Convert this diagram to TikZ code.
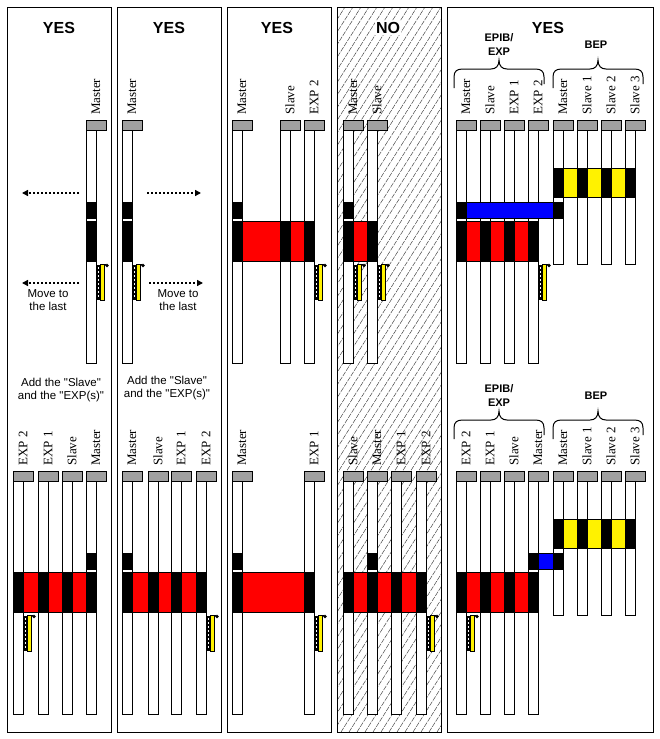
\documentclass[tikz,border=0pt]{standalone}
\usepackage{fontspec}
\setmainfont{Liberation Serif}
\newfontfamily\sansf{Liberation Sans}
\usetikzlibrary{arrows.meta}
\definecolor{capgray}{RGB}{160,160,160}
\definecolor{hatchc}{RGB}{60,60,60}
\tikzset{
  panelsty/.style={draw=black,line width=1pt},
  barsty/.style={draw=black,fill=white,line width=1pt},
  capsty/.style={draw=black,fill=capgray,line width=1pt},
  blksty/.style={draw=black,fill=black,line width=1pt},
  bandsty/.style={draw=black,line width=1pt},
  lblsty/.style={rotate=90,anchor=west,inner sep=0pt,font=\fontsize{13}{15}\selectfont},
  titlesty/.style={inner sep=0pt,font=\sansf\bfseries\fontsize{16}{18}\selectfont},
  notesty/.style={inner sep=0pt,align=center,font=\sansf\fontsize{11.5}{13}\selectfont},
  grpsty/.style={inner sep=0pt,align=center,font=\sansf\bfseries\fontsize{11}{14}\selectfont},
  bracesty/.style={draw=black,line width=1pt},
  hatchsty/.style={draw=hatchc,line width=0.45pt,dash pattern=on 5pt off 1.2pt},
  movearrow/.style={line width=1.4pt,dash pattern=on 2pt off 2pt,-{Triangle[length=6pt,width=6pt]}}
}
\newcommand\Module[4]{% x, dy, label, bar bottom
  \draw[barsty] (#1,130+#2) rectangle (#1+10,#4+#2);
  \draw[capsty] (#1,120+#2) rectangle (#1+20,130+#2);
  \node[lblsty] (m-#1-#2) at (#1+10,115+#2) {#3};}
\newcommand\Blk[3]{\draw[blksty] (#1,#2) rectangle (#1+10,#3);}
\newcommand\Band[5]{\draw[bandsty,fill=#5] (#1,#3) rectangle (#2,#4);}
\newcommand\Term[2]{%
  \fill[black] (#1+10.5,265+#2) rectangle (#1+14,300+#2);
  \foreach \k in {0,...,7}{\fill[white] (#1+11.6,267+#2+4*\k) rectangle (#1+13,268.8+#2+4*\k);}
  \draw[fill=yellow,draw=black,line width=1pt] (#1+14,264+#2) rectangle (#1+18,300+#2);
  \draw[black,line width=1pt] (#1+18,264+#2) -- (#1+20,264+#2);
  \fill[black] (#1+21,265.5+#2) circle (1.8);}
\newcommand\Brace[3]{%
  \draw[bracesty] (#1,88+#3) -- (#1,77+#3) .. controls (#1,71+#3) and (#1+3,69+#3) .. (#1+9,69+#3)
   -- ({(#1+#2)/2-8},69+#3) .. controls ({(#1+#2)/2-3},69+#3) and ({(#1+#2)/2},66+#3) .. ({(#1+#2)/2},60+#3)
   .. controls ({(#1+#2)/2},66+#3) and ({(#1+#2)/2+3},69+#3) .. ({(#1+#2)/2+8},69+#3)
   -- (#2-9,69+#3) .. controls (#2-3,69+#3) and (#2,71+#3) .. (#2,77+#3) -- (#2,84+#3);}
\begin{document}
\begin{tikzpicture}[x=1pt,y=-1pt]
\useasboundingbox[fill=white] (0,0) rectangle (660,739);
% panels
\draw[panelsty,fill=white] (7,7) rectangle (111,732);
\draw[panelsty,fill=white] (117,7) rectangle (221,732);
\draw[panelsty,fill=white] (227,7) rectangle (331,732);
\fill[white] (337,7) rectangle (441,732);
\begin{scope}
  \clip (337,7) rectangle (441,732);
  \foreach \i in {0,...,72}{\draw[hatchsty] (-123+8*\i,732) -- ++(460,-725);}
\end{scope}
\draw[panelsty] (337,7) rectangle (441,732);
\draw[panelsty,fill=white] (447,7) rectangle (653,732);
% titles
\node[titlesty] (t1) at (59,28) {YES};
\node[titlesty] (t2) at (169,28) {YES};
\node[titlesty] (t3) at (277,28) {YES};
\node[titlesty,fill=white,inner sep=1pt] (t4) at (388,28) {NO};
\node[titlesty] (t5) at (548,28) {YES};
% ---------- top row (dy=0)
\Module{86}{0}{Master}{363}
\Module{122}{0}{Master}{363}
\Module{232}{0}{Master}{363}
\Module{280}{0}{Slave}{363}
\Module{304}{0}{EXP 2}{363}
\Module{343}{0}{Master}{363}
\Module{367}{0}{Slave}{363}
\Module{456}{0}{Master}{363}
\Module{480}{0}{Slave}{363}
\Module{504}{0}{EXP 1}{363}
\Module{528}{0}{EXP 2}{363}
\Module{553}{0}{Master}{264}
\Module{577}{0}{Slave 1}{264}
\Module{601}{0}{Slave 2}{264}
\Module{625}{0}{Slave 3}{264}
% master top blocks
\Blk{86}{202}{218}\Blk{122}{202}{218}\Blk{232}{202}{218}\Blk{343}{202}{218}
\Band{456}{563}{202}{218}{blue}\Blk{456}{202}{218}\Blk{553}{202}{218}
% red row
\Blk{86}{221}{261}\Blk{122}{221}{261}
\Band{232}{314}{221}{261}{red}\Blk{232}{221}{261}\Blk{280}{221}{261}\Blk{304}{221}{261}
\Band{343}{377}{221}{261}{red}\Blk{343}{221}{261}\Blk{367}{221}{261}
\Band{456}{538}{221}{261}{red}\Blk{456}{221}{261}\Blk{480}{221}{261}\Blk{504}{221}{261}\Blk{528}{221}{261}
% yellow row
\Band{553}{635}{168}{197}{yellow}\Blk{553}{168}{197}\Blk{577}{168}{197}\Blk{601}{168}{197}\Blk{625}{168}{197}
% terminators
\Term{86}{0}\Term{122}{0}\Term{304}{0}\Term{343}{0}\Term{367}{0}\Term{528}{0}
% arrows and notes
\coordinate (a1s) at (79,193); \coordinate (a1e) at (22,193);
\coordinate (a2s) at (79,283); \coordinate (a2e) at (22,283);
\coordinate (a3s) at (147,193); \coordinate (a3e) at (201,193);
\coordinate (a4s) at (149,283); \coordinate (a4e) at (203,283);
\draw[movearrow] (a1s) -- (a1e);
\draw[movearrow] (a2s) -- (a2e);
\draw[movearrow] (a3s) -- (a3e);
\draw[movearrow] (a4s) -- (a4e);
\node[notesty] (n1) at (48,300.5) {Move to\\the last};
\node[notesty] (n2) at (178,300.5) {Move to\\the last};
\node[notesty] (n3) at (61,390.5) {Add the "Slave"\\and the "EXP(s)"};
\node[notesty] (n4) at (167,388) {Add the "Slave"\\and the "EXP(s)"};
% group labels
\node[grpsty] (g1) at (499,45) {EPIB/\\EXP};
\node[grpsty] (g2) at (596,45) {BEP};
\Brace{454}{544}{0}
\Brace{553}{643}{0}
% ---------- bottom row (dy=351)
\Module{13}{351}{EXP 2}{363}
\Module{38}{351}{EXP 1}{363}
\Module{62}{351}{Slave}{363}
\Module{86}{351}{Master}{363}
\Module{122}{351}{Master}{363}
\Module{148}{351}{Slave}{363}
\Module{171}{351}{EXP 1}{363}
\Module{196}{351}{EXP 2}{363}
\Module{232}{351}{Master}{363}
\Module{304}{351}{EXP 1}{363}
\Module{343}{351}{Slave}{363}
\Module{367}{351}{Master}{363}
\Module{391}{351}{EXP 1}{363}
\Module{416}{351}{EXP 2}{363}
\Module{456}{351}{EXP 2}{363}
\Module{480}{351}{EXP 1}{363}
\Module{504}{351}{Slave}{363}
\Module{528}{351}{Master}{363}
\Module{553}{351}{Master}{264}
\Module{577}{351}{Slave 1}{264}
\Module{601}{351}{Slave 2}{264}
\Module{625}{351}{Slave 3}{264}
\Blk{86}{553}{569}\Blk{122}{553}{569}\Blk{232}{553}{569}\Blk{367}{553}{569}
\Band{528}{563}{553}{569}{blue}\Blk{528}{553}{569}\Blk{553}{553}{569}
\Band{13}{96}{572}{612}{red}\Blk{13}{572}{612}\Blk{38}{572}{612}\Blk{62}{572}{612}\Blk{86}{572}{612}
\Band{122}{206}{572}{612}{red}\Blk{122}{572}{612}\Blk{148}{572}{612}\Blk{171}{572}{612}\Blk{196}{572}{612}
\Band{232}{314}{572}{612}{red}\Blk{232}{572}{612}\Blk{304}{572}{612}
\Band{343}{426}{572}{612}{red}\Blk{343}{572}{612}\Blk{367}{572}{612}\Blk{391}{572}{612}\Blk{416}{572}{612}
\Band{456}{538}{572}{612}{red}\Blk{456}{572}{612}\Blk{480}{572}{612}\Blk{504}{572}{612}\Blk{528}{572}{612}
\Band{553}{635}{519}{548}{yellow}\Blk{553}{519}{548}\Blk{577}{519}{548}\Blk{601}{519}{548}\Blk{625}{519}{548}
\Term{13}{351}\Term{196}{351}\Term{304}{351}\Term{416}{351}\Term{456}{351}
\node[grpsty] (g3) at (499,396) {EPIB/\\EXP};
\node[grpsty] (g4) at (596,396) {BEP};
\Brace{454}{544}{351}
\Brace{553}{643}{351}
\end{tikzpicture}
\end{document}
